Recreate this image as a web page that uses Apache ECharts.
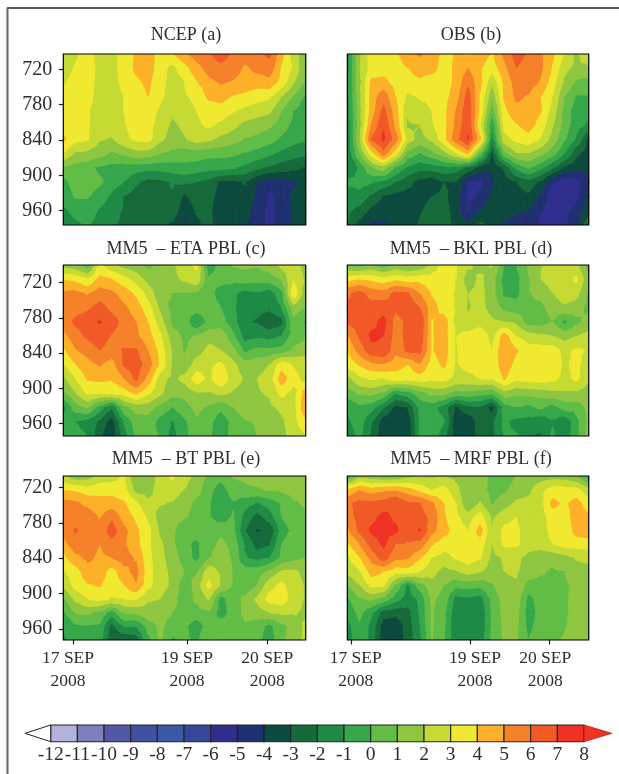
<!DOCTYPE html>
<html><head><meta charset="utf-8">
<style>html,body{margin:0;padding:0;background:#fff}#c{width:619px;height:774px}</style>
<script src="https://cdn.jsdelivr.net/npm/echarts@6/dist/echarts.min.js"></script>
</head><body><div id="c"></div>
<script>
const levels=[-12,-11,-10,-9,-8,-7,-6,-5,-4,-3,-2,-1,0,1,2,3,4,5,6,7,8];
const bandColors=['#b3b2d8','#7d7fbc','#5258a6','#3f51a0','#3a58a3','#36479c','#2e2e8e','#1f3070','#0c4a3e','#166a39','#1e8a45','#36a74a','#62bd46','#8fc641','#c5db33','#f0e92f','#fdb128','#f58129','#f15a27','#ee3224'];
const yTicks=[720,780,840,900,960];
const dateLabels=['17 SEP\n2008','19 SEP\n2008','20 SEP\n2008'];
const panelTitles=['NCEP (a)','OBS (b)','MM5  \u2013 ETA PBL (c)','MM5  \u2013 BKL PBL (d)','MM5  \u2013 BT PBL (e)','MM5  \u2013 MRF PBL (f)'];

const panelA=[
[2.5,2.8,3.5,2.5,2.6,3.5,4.1,4.5,3.5,3.9,4.8,5.5,5.9,6.5,5.8,5.5,5.8,6.2,4.3,2.5,1.2],
[2.5,3.1,3.6,2.6,2.7,3.3,4.2,4.5,3.4,2.7,3.6,4.6,5.4,5.7,5.5,4.8,5.3,5.6,3.9,2.8,1.0],
[2.9,3.3,3.5,2.6,2.7,3.2,3.8,4.2,3.3,2.6,3.0,3.9,4.7,5.1,4.9,4.6,4.4,4.6,3.6,2.1,0.8],
[3.3,3.5,3.4,2.5,2.6,3.0,3.5,4.0,3.2,2.5,2.9,3.2,4.2,4.4,3.9,3.7,3.4,3.2,2.0,0.9,-0.2],
[3.1,3.4,3.1,2.5,2.6,3.0,3.4,3.5,2.8,2.2,2.6,3.0,3.4,3.5,3.1,2.7,2.4,2.2,1.0,0.0,-0.6],
[3.4,3.4,3.1,2.4,2.5,2.9,3.5,3.4,2.5,1.8,2.2,2.8,3.2,2.8,2.3,1.7,1.5,1.2,0.5,-0.3,-0.9],
[4.2,3.3,3.1,2.1,1.9,2.7,3.2,3.3,2.2,1.6,1.9,2.4,2.2,1.7,1.4,0.9,0.7,0.4,-0.2,-0.7,-0.9],
[2.9,1.8,1.7,1.4,0.8,1.2,1.6,1.5,1.0,0.7,0.4,0.5,0.3,0.3,0.2,-0.1,-0.4,-0.8,-1.3,-1.6,-1.8],
[0.8,0.5,0.3,-0.2,-0.4,-0.5,-0.6,-0.7,-0.7,-0.5,-0.3,-0.5,-0.7,-0.7,-0.9,-1.3,-1.8,-2.2,-2.5,-2.8,-3.1],
[-0.3,0.4,0.5,0.2,-0.5,-1,-1.8,-2.4,-2.3,-1.9,-1.9,-2,-2.4,-3.2,-3.3,-2.9,-4,-4.7,-4.4,-4.2,-3.6],
[-0.6,0.1,0.1,-0.5,-1.2,-2,-2.5,-2.7,-2.3,-2.1,-3.2,-2.5,-2.7,-3.4,-3.5,-3.4,-4.2,-5.2,-4.7,-3.8,-3.4],
[-1.2,-0.7,-0.5,-1.1,-1.6,-2.1,-2.8,-2.8,-2.6,-2.4,-3.7,-2.9,-2.8,-3.6,-3.7,-3.7,-4.4,-5.3,-4.7,-3.9,-3.5],
[-1.6,-1.2,-0.9,-1.4,-1.9,-2.2,-2.9,-2.9,-2.8,-3.2,-4.2,-3.2,-2.7,-3.6,-3.8,-3.9,-4.5,-5.3,-4.6,-3.9,-3.5]];

const panelB=[
[-1.5,1.8,3.5,3.6,3.7,4.8,5.1,4.6,3.6,4.1,3.9,4.5,3.9,5.2,6.4,5.9,5.2,4.2,2.9,1.8,3.2],
[-1.5,1.9,3.4,3.6,3.5,4.0,4.6,4.4,3.5,4.2,5.0,4.1,3.4,4.7,6.0,5.5,5.2,3.9,2.3,1.7,1.7],
[-1.4,1.7,4.2,4.3,3.6,3.5,3.7,3.3,3.5,4.2,5.8,4.2,2.2,4.2,5.4,5.5,4.9,3.4,1.8,0.8,0.6],
[-1.4,1.7,4.4,5.6,4.0,2.8,3.1,3.2,3.6,4.5,6.4,3.9,1.2,4.1,5.2,4.9,4.0,3.0,1.0,-0.1,-0.1],
[-1.6,1.6,4.4,6.3,4.4,2.1,2.6,3.0,3.7,5.0,6.7,3.7,0.3,3.7,4.7,4.6,4.1,2.6,0.6,-0.6,-0.7],
[-1.7,1.5,5.0,6.9,4.7,1.9,2.0,2.9,3.6,5.2,6.8,3.1,-0.9,3.3,3.9,4.4,3.6,2.1,0.5,-0.6,-1.2],
[-1.9,1.8,6.1,7.2,5.5,2.5,1.6,2.2,3.6,5.6,7.1,4.3,-1.6,2.6,3.3,3.6,2.9,1.6,0.1,-1.2,-3.2],
[-2,0.9,3.5,5.6,3.4,0.6,-0.1,0.6,1.5,2.9,4.2,0.5,-3.1,0.6,1.9,1.9,1.3,0.4,-1,-2.8,-3.6],
[-2.2,-0.9,0.9,1.5,-0.2,-1.2,-1.7,-1.6,-1.3,-1.5,-2.2,-3.5,-3.9,-2.8,-0.8,0.1,-0.7,-1.9,-3.2,-3.7,-3.8],
[-0.8,-0.6,-0.9,-1.3,-2.0,-2.7,-3.4,-3.7,-3.0,-3.1,-5.2,-5.4,-4.1,-3.7,-3,-2.4,-3.2,-5,-5.9,-5.6,-4.0],
[-1.7,-1.4,-2.2,-3.1,-3.4,-3.4,-3.3,-3,-2.8,-3.5,-5.4,-4.8,-3.8,-3.6,-3.4,-3.2,-4.2,-5.9,-5.9,-5.3,-3.8],
[-1.8,-2.3,-3.3,-3.7,-3.8,-3.7,-3.1,-2.7,-2.6,-3.5,-5.2,-4,-3.5,-3.8,-3.9,-4.0,-4.9,-5.4,-5.3,-4.7,-3.5],
[-2.1,-3.5,-4.3,-4.2,-3.6,-3.5,-2.9,-2.5,-2.3,-3.5,-3.8,-2.8,-3.2,-4.1,-4.3,-4.6,-5.2,-5.4,-5.2,-4.3,-2.2]];

const panelC=[
[1.5,1.2,0.2,3.2,2.2,1.6,1.3,0.7,1.3,1.8,2.6,3.2,-0.8,0.5,1.1,1.2,1.1,1.5,2.3,2.6,1.5],
[3.9,3.7,3.0,4.3,4.0,3.3,2.6,1.6,1.4,1.7,2.2,2.7,0.2,0.3,0.3,0.5,0.4,0.5,1.1,2.9,1.8],
[5.2,5.3,4.9,5.5,5.2,4.6,3.8,2.6,1.2,1.0,0.9,0.8,0.3,-0.4,-0.8,-1.4,-1.2,-1.6,-0.4,3.8,1.2],
[5.5,5.6,5.8,6.4,5.7,5.2,4.5,3.4,1.8,0.6,0.4,0.5,0.5,0,-0.8,-1.7,-1.7,-1.8,-1.0,1.5,0.9],
[5.4,6.2,6.6,7.1,6.5,5.6,5.0,4.0,2.4,0.8,0.5,-1.0,0.3,0.4,-0.6,-1.9,-2.1,-2.8,-2.4,0.7,-0.2],
[4.7,5.5,6.2,6.5,5.9,5.4,5.2,4.4,3.2,1.4,0.8,1.1,1.6,1.7,0.3,-1.5,-1.2,-1.4,-1.0,0.5,0.7],
[3.8,4.9,5.4,6.0,5.6,6.1,6.1,5.0,3.6,1.9,0.9,1.5,2.3,2.0,1.3,-0.2,0.3,0.2,0.4,1.2,1.6],
[2.9,4.0,4.6,5.1,4.5,6.1,6.5,5.5,3.8,1.9,1.2,2.5,2.8,3.2,2.3,1.4,1.6,2.0,3.6,2.9,2.5],
[1.7,3.0,4.1,4.2,4.1,5.0,6.2,4.6,2.4,1.7,2.3,3.6,2.7,3.9,2.4,1.9,2.0,2.4,4.5,3.4,2.6],
[0.8,1.9,3.2,3.0,3.2,3.4,4.2,3.2,2.2,1.3,1.3,1.9,1.9,2.2,1.9,1.7,1.9,2.1,3.3,2.6,4.5],
[-1.3,0.5,1.1,-0.5,-1.9,0.7,1.4,1.4,0.7,0.0,0.6,1.3,0.8,0.2,1.0,1.5,1.7,1.8,2.2,2.6,4.8],
[-0.6,-1.0,-1.4,-2.2,-3.6,-0.9,0.5,0.6,-0.4,-1.1,-0.2,0.8,0.3,-0.6,0.3,0.9,1.1,1.4,1.8,2.6,3.8],
[-0.3,-0.7,-1,-2.8,-3.9,-1.5,0.1,0.3,-0.1,-1.4,-0.3,0.4,0.2,-0.7,0.4,0.6,1,1.2,1.6,2.5,3.0]];

const panelD=[
[0.7,0.5,1.1,0.4,1.2,0.8,1.1,2.2,3.5,3.1,2.2,1.7,2.1,0.0,0.0,1.1,1.9,2.6,2.8,2.2,0.5],
[3.6,3.9,3.7,3.3,3.7,3.4,3.6,3.5,3.5,3.0,1.4,2.2,1.4,-0.4,-0.4,0.9,2,2.4,2.5,3.2,1.1],
[5.8,6.4,5.6,5.4,6.3,6.1,5.0,3.9,3.5,2.9,2.0,2.3,1.4,-0.2,-0.3,0.9,1.3,2.0,2.6,2.3,0.8],
[6.1,6.5,6.4,6.6,6.2,6.6,6.0,4.4,3.5,2.9,1.9,2.3,1.6,0.7,0.4,0.9,0.7,1.4,1.8,1.5,0.6],
[6.1,6.6,6.7,7.3,5.6,6.2,6.9,3.9,4.5,2.7,2.3,2.6,2.2,2.0,1.8,0.5,0.5,1.0,-0.3,0.7,1.4],
[4.9,6.1,7.2,7.0,5.5,6.3,6.7,3.9,4.4,3.0,3.3,3.7,2.6,4.5,3.0,2.5,2.2,2.0,1.6,2.0,2.4],
[4.0,5.4,6.7,6.8,5.3,6.2,6.3,3.9,4.5,2.9,3.7,3.6,3.0,4.9,4.1,3.4,3.5,3.5,2.7,3.2,2.9],
[3.3,4.1,4.7,4.9,4.4,4.0,4.9,3.5,4.2,2.9,3.3,3.4,3.4,4.5,3.7,3.4,3.5,3.6,2.8,3.3,2.3],
[1.6,2.7,3.1,2.9,3.5,3.3,3.5,3.2,3.3,2.7,2.7,3.0,3.0,4.1,3.2,3.4,3.5,3.3,2.7,3.2,2.1],
[0.4,1.2,1.3,0.8,-0.9,-0.4,0.6,1.3,1.3,0.6,0.7,0.4,0.2,1.6,1.2,1.3,1.4,1.7,1.8,1.8,1.5],
[-0.9,-0.3,-0.6,-1.9,-3.4,-3,-0.8,-0.6,-1.5,-3.2,-2.3,-2.2,-3.4,-0.5,0,-0.3,0.2,-0.4,0.4,0.4,1.3],
[-1.2,-0.5,-1.9,-3.6,-3.9,-3.8,-0.9,-0.4,-0.9,-3.8,-3.9,-2.4,-2.3,-0.8,-1.3,-1.4,-1.8,-1.1,-1.9,-0.3,1.2],
[-1.8,-0.7,-2.2,-3.8,-3.9,-3.9,-0.9,-0.3,-1.6,-3.7,-3.8,-2.5,-2.3,-0.9,-0.9,-2,-2.1,-0.8,-1.6,-0.4,1.4]];

const panelE=[
[2.2,1.2,1.4,2.2,2.5,3.1,1.0,1.2,2.4,3.2,2.3,1.8,0.7,0.4,1.1,1.2,1.4,1.3,1.4,1.2,1.5],
[3.9,3.8,3.4,3.7,3.6,3.4,1.6,1.6,2.5,2.6,2.0,1.4,0.3,-0.5,0.5,0.8,0.9,1.1,1.2,1.3,1.2],
[5.4,5.2,4.7,4.3,4.4,4.1,3.2,2.2,2.1,1.9,1.3,0.8,0.1,-0.8,-0.1,-0.6,-1.1,-0.6,0.1,0.9,1.1],
[5.3,5.6,5.6,4.9,5.8,4.5,3.8,2.8,1.5,1.4,1.1,0.7,0.1,-0.6,0.1,-1.4,-2.4,-1.5,0,0.7,0.8],
[5.4,6.1,5.6,5.3,6.5,5.3,4.2,3.3,1.8,1.2,0.2,0.4,0.6,0.8,0.3,-2.0,-3.1,-2.9,-0.6,0.3,0.7],
[4.6,5.6,5.4,5.0,5.6,5.1,4.3,3.2,2.2,1.2,0.2,-0.2,0.6,1.2,0.7,-1.1,-2.5,-2.1,0,0.7,0.6],
[3.7,4.7,5.2,4.8,5,5.4,4.9,3.3,2.3,1.5,0.5,-0.3,0.9,1.7,0.8,-0.9,-1.3,-1.0,0.2,0.7,1.0],
[2.9,3.5,4.6,4.6,3.5,4.7,5.3,3.4,2.3,1.8,1.0,0.9,2.6,1.8,1.0,0.4,0.5,1.2,2.1,2.2,1.7],
[2.1,3.4,3.9,4.1,3.3,4.0,4.9,3.3,2.4,1.8,0.3,1.4,3.3,2.0,0.9,0.2,1.0,2.6,3.3,2.4,1.9],
[0.9,2.2,3.0,3.3,2.9,3.0,3.1,2.1,2.0,1.3,0.5,1.2,2.1,-0.4,0.6,1.2,2.2,3.4,3.6,2.5,1.9],
[-0.2,1.1,1.2,0.8,-0.5,1.1,1.2,1.7,1.5,1.0,0.7,0.6,0.9,-0.6,0.5,1.2,1.5,2.0,2.2,2.1,1.8],
[-0.8,-0.2,-0.1,-0.2,-2.4,-0.9,-1,0.4,1.3,0.3,0.2,-0.6,0.5,0.7,0.5,0.9,0.5,-0.3,0.7,1.3,2.2],
[-1.2,-0.5,-0.4,-0.5,-2.9,-3,-2.6,-0.3,1.2,-0.1,0.2,-0.2,1.0,1.0,0.6,0.8,0.3,-0.6,0.8,1.4,2.3]];

const panelF=[
[-0.4,1.5,1.2,0.8,0.9,1.6,1.8,1.8,1.9,1.7,1.6,1.6,0.6,0.4,1.0,1.2,1.4,1.5,1.4,0.9,-0.6],
[4.0,4.9,4.4,4.7,4.8,4.3,3.6,2.9,3.4,2.3,1.1,1.5,0.6,0.8,1.4,1.7,2.7,3.4,3.4,3.3,2.3],
[5.8,6.3,6.2,6.4,7.0,6.2,6.0,5.2,4.0,3.0,1.0,2.1,0.9,1.5,2.2,2.3,2.6,4.3,3.8,4.4,3.4],
[5.6,6.3,6.7,7.3,6.8,6.4,6.4,5.7,4.1,3.2,2.5,3.5,1.8,2.6,3.0,2.3,2.5,3.5,3.4,4.6,4.2],
[4.8,6.2,7.2,7.3,7.2,6.3,7.1,5.3,4.4,3.5,3.0,4.4,2.1,3.3,3.2,2.5,2.4,3.4,3.2,4.4,4.6],
[3.8,5.0,6.4,7.2,6.0,5.9,5.6,4.1,3.4,3.5,3.6,3.5,2.0,3.2,3.2,2.4,2.4,3,3.4,3.4,3.5],
[2.8,3.9,5.3,6.5,5.2,5.1,4.1,3.0,2.6,3.1,3.5,3.1,1.7,2.1,2.2,1.7,1.3,1.2,1.6,2.1,2.2],
[2.2,2.9,4.4,4.0,3.4,3.5,3.0,2.4,1.6,1.9,2.4,2.1,1.5,2.0,2.1,1.6,1.1,0.9,1.0,1.6,1.7],
[1.0,2.0,3.3,3.2,0.8,-1.2,0.5,1.6,1.0,0.3,0.4,0.3,0.9,1.8,1.9,0.6,0.7,0.9,0.8,1.3,1.6],
[-0.2,0.9,1.2,0.6,-0.6,-1.5,-0.8,1.2,0.6,-1.4,-1.2,-1.5,0.3,1.4,1.6,-0.3,0.4,0.7,0.8,1.4,1.7],
[-0.7,0.3,-0.8,-2.5,-2.7,-2.4,-0.9,1.1,0.3,-1.8,-1.6,-1.9,0.2,1.3,1.4,-0.5,0.3,0.6,0.8,1.4,1.6],
[-1.4,-0.2,-1.3,-3.6,-3.7,-2.6,-1.1,1.1,0.2,-1.9,-1.7,-1.9,0.2,1.2,1.2,-0.3,0.4,0.7,0.9,1.5,1.6],
[-1.7,-0.1,-1.4,-3.8,-3.8,-2.6,-1.3,1.0,0.1,-1.8,-1.7,-1.6,0.2,1.1,1.1,0,0.6,0.8,1.1,1.5,1.6]];

const panelValues=[panelA,panelB,panelC,panelD,panelE,panelF];
const pressureRange=[[694,984.5],[694,984.5],[690,981],[690,981],[700.5,979],[700.5,979]];
const tickPos=[null,null,null,null,[0.78,10.2,16.8],[0.36,10.2,16.7]];
const labelPos=[null,null,null,null,[0.39,10.2,16.83],[0.7,10.58,16.4]];
const boxes=[[63.3,54,242.4,171],[347.3,54,241.4,171],[63.3,265,242.4,171],[347.3,265,241.4,171],[63.3,476,242.4,164],[347.3,476,241.4,164]];
const titleCenters=[[186,35],[471,35],[186,249],[471,249],[186,459],[471,459]];
const txt='#2e2e2e', serif='"Liberation Serif",serif';

function colorOf(lo){return bandColors[levels.indexOf(lo)];}
function clip(poly,lim,keepAbove){
  const out=[];
  for(let i=0;i<poly.length;i++){
    const a=poly[i],b=poly[(i+1)%poly.length];
    const ai=keepAbove?a[2]>=lim:a[2]<=lim, bi=keepAbove?b[2]>=lim:b[2]<=lim;
    if(ai)out.push(a);
    if(ai!==bi){const t=(lim-a[2])/(b[2]-a[2]);out.push([a[0]+t*(b[0]-a[0]),a[1]+t*(b[1]-a[1]),lim]);}
  }
  return out;
}
function makeRender(vals){
  return function(params,api){
    const c=api.value(0),r=api.value(3);
    const yA=api.value(1),yB=api.value(2);
    const v00=vals[r][c],v10=vals[r][c+1],v01=vals[r+1][c],v11=vals[r+1][c+1];
    const mid=[c+.5,(yA+yB)/2,(v00+v10+v01+v11)/4];
    const P=[[c,yA,v00],[c+1,yA,v10],[c+1,yB,v11],[c,yB,v01]];
    const children=[];
    for(let k=0;k<4;k++){
      const tri=[P[k],P[(k+1)%4],mid];
      const vs=tri.map(p=>p[2]);const mn=Math.min(...vs),mx=Math.max(...vs);
      for(let b=0;b<bandColors.length;b++){
        const lo=levels[b],hi=levels[b+1];
        if(mx<lo||mn>hi)continue;
        let poly=clip(tri,lo,true);
        if(poly.length>2)poly=clip(poly,hi,false);
        if(poly.length<3)continue;
        const col=colorOf(lo);
        children.push({type:'polygon',shape:{points:poly.map(p=>api.coord([p[0],p[1]]))},
          style:{fill:col,stroke:col,lineWidth:1,lineJoin:'round'},silent:true});
      }
    }
    return {type:'group',children};
  };
}

const grid=[],xAxis=[],yAxis=[],series=[],title=[];
panelValues.forEach((vals,i)=>{
  const b=boxes[i],rg=pressureRange[i],nr=vals.length-1,nc=vals[0].length-1;
  grid.push({left:b[0],top:b[1],width:b[2],height:b[3],show:true,borderColor:'#000',borderWidth:1.2,z:10});
  title.push({text:panelTitles[i],left:titleCenters[i][0],top:titleCenters[i][1]-11,textAlign:'center',padding:0,
    textStyle:{fontFamily:serif,fontSize:18,fontWeight:'normal',color:txt,lineHeight:22}});
  const hasX=!!tickPos[i],hasY=i%2===0;
  xAxis.push({type:'value',gridIndex:i,min:0,max:nc,splitLine:{show:false},axisLine:{show:false},
    axisTick:{show:hasX,length:4.5,inside:false,lineStyle:{color:'#222',width:1.2},customValues:tickPos[i]||[]},
    axisLabel:{show:hasX,customValues:labelPos[i]||[],margin:7,fontFamily:serif,fontSize:17.5,color:txt,lineHeight:23,hideOverlap:false,
      formatter:v=>{const a=labelPos[i]||[];const k=a.findIndex(p=>Math.abs(p-v)<1e-6);return k>=0?dateLabels[k]:'';}}});
  yAxis.push({type:'value',gridIndex:i,inverse:true,min:rg[0],max:rg[1],splitLine:{show:false},axisLine:{show:false},
    axisTick:{show:hasY,length:4.5,lineStyle:{color:'#222',width:1.2},customValues:yTicks},
    axisLabel:{show:hasY,customValues:yTicks,margin:11,fontFamily:serif,fontSize:20,color:txt}});
  const cells=[];
  const step=(rg[1]-rg[0])/nr;
  for(let r=0;r<nr;r++)for(let c=0;c<nc;c++)cells.push([c,rg[0]+r*step,rg[0]+(r+1)*step,r]);
  series.push({type:'custom',xAxisIndex:i,yAxisIndex:i,coordinateSystem:'cartesian2d',clip:true,silent:true,animation:false,
    encode:{x:0,y:[1,2]},renderItem:makeRender(vals),data:cells,z:2});
});

const cb=6;
grid.push({left:50.7,top:725,width:533.3,height:16.7,show:false});
xAxis.push({type:'value',gridIndex:cb,min:-12,max:8,interval:1,splitLine:{show:false},axisLine:{show:false},axisTick:{show:false},
  axisLabel:{margin:3,fontFamily:serif,fontSize:19.5,color:txt,showMinLabel:true,showMaxLabel:true,hideOverlap:false}});
yAxis.push({type:'value',gridIndex:cb,min:0,max:1,show:false});
series.push({type:'custom',xAxisIndex:cb,yAxisIndex:cb,coordinateSystem:'cartesian2d',clip:false,silent:true,animation:false,z:3,
  encode:{x:0,y:1},
  data:bandColors.map((c,k)=>[levels[k],levels[k+1],k]),
  renderItem(params,api){
    const a=api.coord([api.value(0),1]),b=api.coord([api.value(1),0]);
    return {type:'rect',shape:{x:a[0],y:a[1],width:b[0]-a[0],height:b[1]-a[1]},
      style:{fill:bandColors[api.value(2)],stroke:'#222',lineWidth:1.1},silent:true};
  }});
series.push({type:'custom',xAxisIndex:cb,yAxisIndex:cb,coordinateSystem:'cartesian2d',clip:false,silent:true,animation:false,z:3,
  encode:{x:0,y:1},
  data:[[-12,-12.96],[8,9.04]],
  renderItem(params,api){
    const p=params.dataIndex===0?[[-12,1],[-12.96,.5],[-12,0]]:[[8,1],[9.04,.5],[8,0]];
    const st=params.dataIndex===0?{fill:'#fff',stroke:'#222',lineWidth:1}:{fill:'#ee3224',stroke:'#b02018',lineWidth:.8};
    return {type:'polygon',shape:{points:p.map(q=>api.coord(q))},style:st,silent:true};
  }});

const chart=echarts.init(document.getElementById('c'),null,{renderer:'canvas'});
chart.setOption({animation:false,backgroundColor:'#fff',title,grid,xAxis,yAxis,series,
  graphic:[
    {type:'line',shape:{x1:7,y1:8,x2:619,y2:8},style:{stroke:'#222',lineWidth:1.5},silent:true},
    {type:'line',shape:{x1:7.5,y1:8,x2:7.5,y2:774},style:{stroke:'#666',lineWidth:2},silent:true}
  ]});
</script></body></html>
